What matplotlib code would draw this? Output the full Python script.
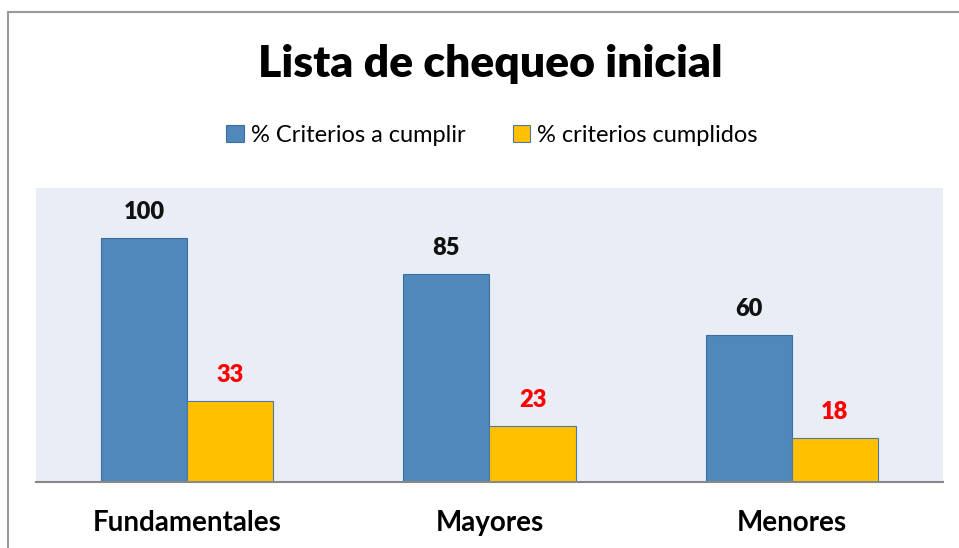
import matplotlib
matplotlib.use("Agg")
import matplotlib.pyplot as plt
import numpy as np
from matplotlib.lines import Line2D
from matplotlib.patches import Patch

categories = ["Fundamentales", "Mayores", "Menores"]
criterios_a_cumplir = [100, 85, 60]
criterios_cumplidos = [33, 23, 18]
series_names = ["% Criterios a cumplir", "% criterios cumplidos"]

W, H = 959, 548
fig = plt.figure(figsize=(W / 100, H / 100), dpi=100)
fig.patch.set_facecolor("white")
font = ["Lato", "DejaVu Sans"]

# outer chart border (left and top visible)
fig.add_artist(Line2D([7.5 / W, 7.5 / W], [0, 1 - 12 / H], color="#9a9a9a", lw=1.5))
fig.add_artist(Line2D([7.5 / W, 1], [1 - 12 / H, 1 - 12 / H], color="#9a9a9a", lw=1.5))

left, right, top, bottom = 36, 943, 188, 482
ax = fig.add_axes([left / W, 1 - bottom / H, (right - left) / W, (bottom - top) / H])
ax.set_facecolor("#E9EDF6")

x = np.arange(len(categories))
bw = 86 / 302
blue, yellow = "#4F88BB", "#FFC000"
b1 = ax.bar(x - bw / 2, criterios_a_cumplir, bw, color=blue, edgecolor="#3F6E9E", linewidth=0.8)
b2 = ax.bar(x + bw / 2, criterios_cumplidos, bw, color=yellow, edgecolor="#4F78A8", linewidth=0.8)

for xi, v in zip(x, criterios_a_cumplir):
    ax.annotate(str(v), (xi - bw / 2, v), xytext=(0, 11), textcoords="offset points",
                ha="center", va="bottom", fontsize=17, fontweight="heavy", color="#111111", family=font)
for xi, v in zip(x, criterios_cumplidos):
    ax.annotate(str(v), (xi + bw / 2, v), xytext=(0, 11), textcoords="offset points",
                ha="center", va="bottom", fontsize=17, fontweight="heavy", color="#FF0000", family=font)

ax.set_xlim(-0.5, 2.5)
ax.set_ylim(0, 120.4)
ax.set_yticks([])
ax.set_xticks(x)
ax.set_xticklabels(categories, fontsize=20, fontweight="bold", family=font)
ax.tick_params(axis="x", length=0, pad=20)
for s in ["top", "left", "right"]:
    ax.spines[s].set_visible(False)
ax.spines["bottom"].set_color("#888888")
ax.spines["bottom"].set_linewidth(1.5)

fig.text(490 / W, 1 - 64 / H, "Lista de chequeo inicial", ha="center", va="center",
         fontsize=32, fontweight="heavy", family=font)

handles = [Patch(facecolor=blue, edgecolor="#3F6E9E", lw=0.8),
           Patch(facecolor=yellow, edgecolor="#4F78A8", lw=0.8)]
fig.legend(handles, series_names, loc="center", bbox_to_anchor=(492 / W, 1 - 135 / H),
           ncol=2, frameon=False, prop={"family": font, "size": 17},
           handlelength=0.75, handleheight=0.75, handletextpad=0.3, columnspacing=2.0)

fig.savefig("out.png", dpi=100)
